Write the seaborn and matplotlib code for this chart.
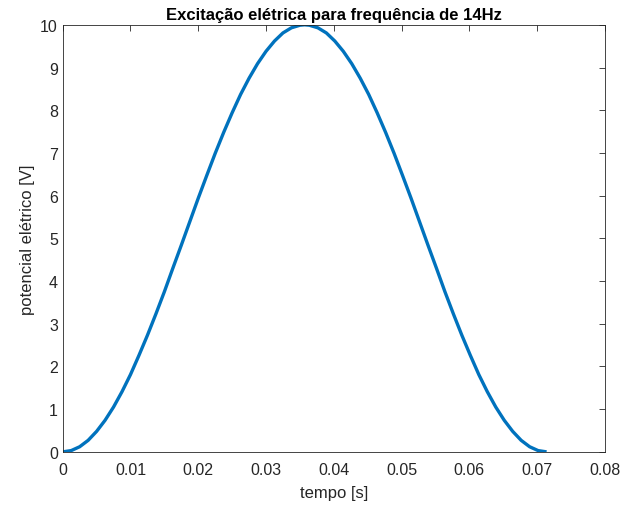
import numpy as np
import pandas as pd
import matplotlib
matplotlib.use("Agg")
import matplotlib.pyplot as plt
import seaborn as sns

# valores (tempo [s], potencial [V])
tempo = [0.0, 0.00125, 0.0025, 0.00375, 0.005, 0.00625, 0.0075, 0.00875,
         0.01, 0.01125, 0.0125, 0.01375, 0.015, 0.01625, 0.0175, 0.01875,
         0.02, 0.02125, 0.0225, 0.02375, 0.025, 0.02625, 0.0275, 0.02875,
         0.03, 0.03125, 0.0325, 0.03375, 0.035, 0.0357,
         0.0364, 0.03765, 0.0389, 0.04015, 0.0414, 0.04265, 0.0439, 0.04515,
         0.0464, 0.04765, 0.0489, 0.05015, 0.0514, 0.05265, 0.0539, 0.05515,
         0.0564, 0.05765, 0.0589, 0.06015, 0.0614, 0.06265, 0.0639, 0.06515,
         0.0664, 0.06765, 0.0689, 0.07015, 0.0714]
potencial = [0.0, 0.03, 0.12, 0.27, 0.48, 0.74, 1.05, 1.41,
             1.81, 2.26, 2.73, 3.23, 3.75, 4.30, 4.84, 5.39,
             5.94, 6.47, 6.99, 7.48, 7.94, 8.37, 8.75, 9.09,
             9.38, 9.62, 9.81, 9.93, 9.99, 10.0,
             9.99, 9.93, 9.81, 9.62, 9.38, 9.09, 8.75, 8.37,
             7.94, 7.48, 6.99, 6.47, 5.94, 5.39, 4.84, 4.30,
             3.75, 3.23, 2.73, 2.26, 1.81, 1.41, 1.05, 0.74,
             0.48, 0.27, 0.12, 0.03, 0.0]
xticks = [0, 0.01, 0.02, 0.03, 0.04, 0.05, 0.06, 0.07, 0.08]
xticklabels = ["0", "0.01", "0.02", "0.03", "0.04", "0.05", "0.06", "0.07", "0.08"]
yticks = list(range(0, 11))

df = pd.DataFrame({"tempo": tempo, "potencial": potencial})

sns.set_style("white")
plt.rcParams["font.family"] = ["Liberation Sans", "DejaVu Sans"]

fig = plt.figure(figsize=(6.21, 5.06), dpi=100)
ax = fig.add_axes([0.101, 0.105, 0.873, 0.844])

sns.lineplot(data=df, x="tempo", y="potencial", ax=ax, color="#0072BD",
             linewidth=2.4, solid_capstyle="butt", solid_joinstyle="round")

ax.set_xlim(0, 0.08)
ax.set_ylim(0, 10)
ax.set_xticks(xticks)
ax.set_xticklabels(xticklabels)
ax.set_yticks(yticks)

for s in ax.spines.values():
    s.set_visible(True)
    s.set_color("#262626")
    s.set_linewidth(0.6)
ax.tick_params(direction="in", length=4, width=0.6, color="#262626",
               top=True, right=True, labelsize=11.5, labelcolor="#262626")
ax.tick_params(axis="x", pad=7)

ax.set_xlabel("tempo [s]", fontsize=12, color="#262626", labelpad=6)
ax.set_ylabel("potencial elétrico [V]", fontsize=12, color="#262626")
ax.set_title("Excitação elétrica para frequência de 14Hz", fontsize=12,
             fontweight="bold", color="black", pad=4)

fig.savefig("out.png", dpi=100)
